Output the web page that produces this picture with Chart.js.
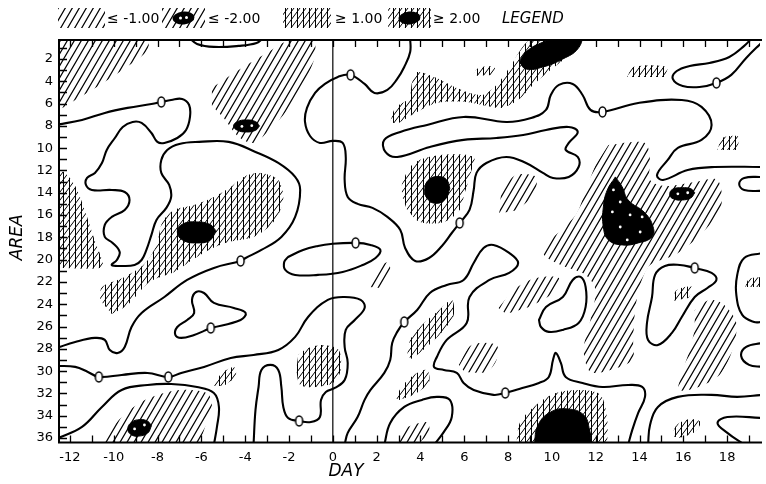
<!DOCTYPE html>
<html>
<head>
<meta charset="utf-8">
<title>Area / day anomaly isopleths</title>
<script src="https://cdn.jsdelivr.net/npm/chart.js@4.4.1/dist/chart.umd.min.js"></script>
<style>
html,body{margin:0;padding:0;background:#ffffff;overflow:hidden;}
canvas{display:block;}
</style>
</head>
<body>
<canvas id="chart" width="766" height="484"></canvas>
<script>
// ---------------- axes ----------------
const dayRange = [-12.5, 19.5];
const areaRange = [0.3, 36.4];
const dayTicks = [-12, -10, -8, -6, -4, -2, 0, 2, 4, 6, 8, 10, 12, 14, 16, 18];
const areaTicks = [2, 4, 6, 8, 10, 12, 14, 16, 18, 20, 22, 24, 26, 28, 30, 32, 34, 36];
const legendLabels = ['\u2264 -1.00', '\u2264 -2.00', '\u2265 1.00', '\u2265 2.00', 'LEGEND'];
const axisTitles = { x: 'DAY', y: 'AREA' };

// ---------------- zero isolines  [day, area] ----------------
const zeroLineA = [[-12.6,7.9],[-11.45,7.47],[-10.41,6.84],[-9.37,6.39],[-8.28,6.04],[-7.83,5.86],[-7.38,5.68],[-6.88,5.59],[-6.56,6.13],[-6.52,7.2],[-6.7,8.37],[-7.1,9.09],[-7.69,9.53],[-8.01,9.44],[-8.28,8.64],[-8.73,7.74],[-9.14,7.65],[-9.59,8.1],[-9.95,9.09],[-10.32,10.16],[-10.54,11.33],[-10.86,12.22],[-11.22,12.67],[-11.27,13.3],[-11.0,13.75],[-10.09,13.75],[-9.5,13.93],[-9.28,14.65],[-9.5,15.54],[-10.09,16.17],[-10.41,16.89],[-10.41,17.96],[-10.05,18.5],[-9.73,19.31],[-9.86,20.03],[-10.09,20.48],[-9.64,20.57],[-9.05,20.48],[-8.73,20.03],[-8.51,19.13],[-8.28,17.78],[-8.05,16.44],[-7.6,15.36],[-7.38,14.38],[-7.47,13.3],[-7.83,12.22],[-7.83,11.06],[-7.56,10.16],[-7.01,9.62],[-6.11,9.44],[-4.75,9.44],[-3.53,10.34],[-2.49,11.33],[-1.72,12.58],[-1.49,13.75],[-1.72,16.17],[-2.35,17.96],[-3.26,19.13],[-3.98,19.85],[-4.21,20.12],[-5.43,20.74],[-6.65,21.82],[-7.69,23.35],[-8.73,24.78],[-9.19,26.04],[-9.5,27.83],[-9.82,28.37],[-10.18,28.1],[-10.41,27.2],[-10.86,27.02],[-11.76,27.38],[-12.6,27.92]];
const zeroLineB = [[-12.6,29.53],[-11.76,29.62],[-11.18,30.07],[-10.68,30.52],[-9.64,30.34],[-8.46,30.16],[-7.51,30.52],[-6.92,30.16],[-5.88,29.62],[-4.66,28.82],[-3.62,28.55],[-2.49,28.1],[-1.72,26.93],[-1.13,25.14],[-0.23,23.61],[0.54,23.35],[1.27,23.61],[1.45,24.33],[1.0,25.41],[0.59,26.3],[0.54,27.83],[0.68,29.26],[0.54,30.79],[0.09,31.51],[-0.32,31.87],[-0.54,32.58],[-0.59,34.11],[-1.0,34.56],[-1.54,34.47],[-2.04,34.2],[-2.26,33.21],[-2.35,31.42],[-2.49,29.89],[-2.85,29.44],[-3.26,29.89],[-3.39,31.42],[-3.53,33.48],[-3.62,36.6]];
const zeroLineC = [[-12.6,36.05],[-11.45,35.0],[-10.54,33.21],[-9.64,31.69],[-8.46,31.24],[-7.38,31.15],[-6.2,31.42],[-5.43,31.96],[-5.2,33.21],[-5.29,35.0],[-5.43,36.6]];
const zeroLoopD = [[-5.57,26.13],[-4.21,25.41],[-3.98,24.78],[-4.52,24.33],[-5.43,23.88],[-5.88,22.99],[-6.24,22.9],[-6.43,23.61],[-6.33,24.78],[-6.65,25.41],[-7.1,26.04],[-7.19,26.75],[-6.92,27.02],[-6.33,26.75],[-5.88,26.39],[-5.57,26.13]];
const zeroLoopE = [[-2.04,19.76],[-1.36,19.13],[-0.68,18.77],[-0.09,18.59],[1.04,18.5],[1.72,18.68],[2.17,19.13],[1.95,19.85],[1.36,20.48],[0.45,21.1],[-0.68,21.37],[-1.72,21.37],[-2.17,20.92],[-2.22,20.21],[-2.04,19.76]];
const zeroLineF = [[3.53,0.1],[3.53,1.37],[3.26,2.72],[2.94,3.79],[2.49,4.78],[1.9,5.05],[1.45,4.24],[0.81,3.43],[0.23,3.61],[-0.36,4.24],[-0.81,5.05],[-1.18,6.39],[-1.27,7.65],[-1.04,8.91],[-0.59,9.53],[0.0,9.35],[0.45,9.53],[0.59,10.79],[0.54,12.85],[0.68,14.38],[1.13,15.0],[1.81,15.36],[2.49,16.17],[3.08,17.34],[3.3,18.95],[3.76,20.12],[4.39,19.85],[4.98,18.77],[5.43,17.61],[5.79,16.71],[6.24,15.54],[6.43,13.75],[6.56,12.22],[7.01,11.33],[7.92,10.79],[8.82,11.33],[9.59,12.22],[10.05,12.67],[10.77,12.58],[11.22,11.69],[11.18,10.79],[10.63,10.16],[10.77,9.53],[11.18,8.55],[10.77,8.1],[9.73,8.37],[8.69,8.82],[7.47,9.09],[5.97,9.26],[4.43,9.89],[2.94,10.79],[2.4,10.34],[2.35,9.26],[3.08,8.55],[4.3,7.92],[5.97,7.2],[7.92,7.65],[9.05,7.29],[9.73,6.57],[9.95,5.23],[10.32,4.33],[10.95,4.24],[11.4,5.23],[11.76,6.57],[12.31,6.75],[13.94,5.95],[15.93,5.68],[16.83,6.3],[17.29,7.92],[16.83,9.26],[15.75,9.98],[15.29,11.06],[14.8,12.4],[15.07,12.85],[16.2,11.96],[17.42,11.69],[19.6,11.69]];
const zeroLineG = [[19.14,0.1],[18.78,0.83],[18.1,1.82],[17.19,2.36],[16.29,2.63],[15.7,3.08],[15.52,3.79],[15.97,4.42],[16.74,4.51],[17.51,4.15],[18.19,3.43],[18.87,1.91],[19.6,0.48]];
const zeroLineH = [[0.54,36.6],[0.68,35.54],[1.13,34.11],[1.45,32.58],[1.72,31.69],[2.35,30.16],[2.62,29.0],[2.71,27.47],[2.94,26.48],[3.26,25.59],[3.85,24.51],[4.43,22.99],[5.2,22.27],[5.97,21.82],[6.43,20.3],[6.88,18.95],[7.33,18.68],[8.05,19.4],[8.46,20.3],[8.05,21.19],[7.15,21.82],[6.24,23.35],[6.11,25.68],[5.2,27.2],[4.75,28.73],[4.62,29.62],[5.07,29.89],[5.66,30.16],[5.97,31.06],[6.43,31.69],[7.33,32.13],[7.87,31.96],[8.51,31.6],[9.41,31.06],[9.86,30.52],[10.05,29.0],[10.18,28.37],[10.41,29.26],[10.63,30.52],[11.4,31.06],[12.31,31.42],[13.48,31.24],[14.12,31.42],[14.25,32.31],[13.94,33.75],[13.67,35.27],[13.48,36.6]];
const zeroLoopI = [[9.41,25.41],[9.73,24.24],[10.5,23.35],[10.95,21.82],[11.31,21.55],[11.54,22.45],[11.54,24.24],[11.22,25.68],[10.5,26.3],[9.86,26.48],[9.5,26.04],[9.41,25.41]];
const zeroLoopJ = [[16.52,20.74],[17.29,21.19],[17.51,21.82],[17.1,22.54],[16.52,23.35],[15.93,25.14],[15.48,26.57],[14.84,27.65],[14.39,27.2],[14.34,25.68],[14.57,23.35],[14.71,21.37],[15.16,20.57],[15.84,20.48],[16.52,20.74]];
const zeroLineK = [[2.35,36.6],[2.62,34.65],[3.26,33.21],[4.07,32.58],[4.75,32.31],[5.34,32.58],[5.43,34.11],[5.07,35.45],[4.62,36.6]];
const zeroLineL = [[-6.56,0.1],[-6.2,0.65],[-5.43,0.92],[-4.3,0.83],[-3.48,0.57],[-3.17,0.1]];
const zeroLineM = [[14.39,36.6],[14.48,34.83],[14.84,33.21],[15.75,32.31],[17.29,32.13],[18.46,32.31],[19.6,32.13]];
const zeroLineN = [[19.6,34.2],[18.01,34.11],[17.56,34.65],[18.01,35.54],[18.78,36.6]];
const zeroLineP = [[19.6,12.58],[18.78,12.67],[18.55,13.21],[18.78,13.75],[19.6,13.84]];
const zeroLineQ = [[19.6,19.4],[18.78,19.85],[18.46,21.37],[18.42,23.17],[18.69,24.96],[19.23,25.59],[19.6,25.59]];
const zeroLineR = [[19.6,27.47],[18.87,27.83],[18.64,28.64],[19.0,29.44],[19.6,29.62]];
const zeroLabels = [[-7.83,5.86],[0.81,3.43],[12.31,6.75],[17.51,4.15],[5.79,16.71],[1.04,18.5],[-4.21,20.12],[-5.57,26.13],[3.26,25.59],[16.52,20.74],[7.87,31.96],[-1.54,34.47],[-10.68,30.52],[-7.51,30.52]];
const dayZeroLine = [[0, 0.3], [0, 36.4]];

// ---------------- anomaly <= -1.00 (single hatch) ----------------
const neg1A = [[-12.6,0.1],[-8.51,0.1],[-8.46,1.19],[-9.28,2.54],[-10.63,4.33],[-11.76,5.68],[-12.35,6.39],[-12.6,6.5]];
const neg1B = [[-5.52,4.6],[-4.3,2.99],[-2.94,1.37],[-1.95,0.3],[-0.9,0.3],[-0.81,1.64],[-1.13,3.43],[-1.58,5.23],[-2.26,7.02],[-3.03,8.64],[-3.62,9.53],[-4.3,8.99],[-4.98,7.29],[-5.52,6.22]];
const neg1C = [[12.58,9.71],[14.25,9.53],[14.48,11.06],[14.48,12.85],[15.16,13.39],[16.52,13.03],[17.56,12.85],[17.74,15.09],[17.19,16.89],[16.52,18.23],[15.61,19.58],[14.48,20.48],[14.03,22.27],[13.8,24.51],[13.71,27.2],[13.67,29.0],[12.67,29.89],[11.76,30.07],[11.45,28.1],[11.76,25.41],[11.99,22.72],[11.54,21.37],[10.41,20.48],[9.64,19.58],[9.73,18.68],[11.09,15.99],[11.54,13.75],[11.99,11.51]];
const neg1D = [[7.69,13.75],[8.37,12.4],[9.28,12.58],[9.14,14.2],[8.37,15.54],[7.6,15.81]];
const neg1E = [[7.56,24.33],[8.37,22.54],[9.28,21.64],[10.32,21.64],[10.09,22.9],[9.05,24.15],[7.92,24.87]];
const neg1F = [[5.75,29.44],[6.33,27.65],[7.47,27.65],[7.47,29.0],[7.01,30.07],[6.02,30.07]];
const neg1G = [[16.52,24.51],[17.19,23.61],[17.87,24.06],[18.42,25.68],[18.24,28.1],[17.65,30.34],[16.6,31.5],[15.8,31.7],[15.84,30.79],[16.29,28.1],[16.52,26.3]];
const neg1H = [[2.85,36.6],[3.17,35.27],[4.3,34.56],[4.39,35.45],[3.85,36.6]];
const neg1I = [[1.67,22.45],[1.95,21.1],[2.49,20.21],[2.62,20.92],[2.17,22.54]];
const neg1J = [[-10.63,36.6],[-10.09,35.09],[-9.28,33.48],[-8.37,32.4],[-7.01,31.69],[-5.75,31.96],[-5.52,33.03],[-5.88,35.27],[-6.11,36.6]];

// ---------------- anomaly <= -2.00 (black with white dots) ----------------
const neg2A = [[-3.35,8.01],[-3.52,8.39],[-3.94,8.55],[-4.36,8.39],[-4.53,8.01],[-4.36,7.63],[-3.94,7.47],[-3.52,7.63],[-3.35,8.01]];
const neg2B = [[-8.28,34.9],[-8.45,34.5],[-8.8,34.35],[-9.2,34.6],[-9.36,35.2],[-9.2,35.7],[-8.85,35.82],[-8.45,35.55],[-8.28,34.9]];
const neg2C = [[12.9,12.58],[13.21,13.48],[13.48,14.65],[14.25,15.81],[14.62,17.07],[14.57,17.96],[13.94,18.5],[13.21,18.68],[12.58,18.23],[12.35,17.07],[12.35,15.27],[12.53,13.75],[12.9,12.58]];
const neg2D = [[16.52,14.0],[16.35,13.65],[15.95,13.55],[15.5,13.7],[15.38,14.2],[15.55,14.55],[15.95,14.65],[16.35,14.45],[16.52,14.0]];
const neg2Dots = [[-4.15,8.05],[-3.7,7.98],[-9.05,35.18],[-8.6,34.83],[12.81,13.75],[13.12,14.83],[12.76,15.72],[13.57,15.99],[13.12,17.07],[14.03,17.52],[13.44,18.23],[14.12,16.17],[15.75,14.1],[16.2,14.0]];

// ---------------- anomaly >= 1.00 (cross hatch) ----------------
const pos1A = [[-12.6,11.87],[-12.22,12.22],[-11.76,13.39],[-11.31,15.63],[-10.86,18.32],[-10.5,20.3],[-10.63,20.74],[-12.6,20.74]];
const pos1B = [[-10.63,23.61],[-10.54,22.45],[-9.5,21.55],[-8.6,20.4],[-8.05,18.68],[-7.78,16.62],[-7.24,15.54],[-6.33,15.09],[-5.43,14.38],[-4.66,13.48],[-4.07,12.58],[-3.3,12.22],[-2.49,12.85],[-2.26,14.65],[-2.71,16.62],[-3.62,17.96],[-4.75,18.41],[-5.66,19.13],[-6.56,20.21],[-7.24,21.1],[-8.37,22.0],[-9.37,24.06],[-10.09,24.87]];
const pos1C = [[2.62,7.65],[2.85,6.39],[3.48,5.5],[3.62,4.06],[3.85,3.17],[4.75,3.7],[5.66,4.6],[6.79,5.23],[7.47,4.33],[8.14,2.54],[8.73,0.74],[9.19,0.1],[11.4,0.1],[10.95,1.37],[10.05,2.81],[9.14,4.33],[8.46,5.68],[7.69,6.39],[7.01,6.22],[6.11,5.86],[4.75,5.95],[3.85,6.75],[2.94,7.83]];
const pos1D = [[6.38,3.52],[6.65,2.81],[7.38,2.72],[7.33,3.43]];
const pos1E = [[13.44,3.61],[13.71,2.72],[15.25,2.72],[15.16,3.61]];
const pos1F = [[17.56,10.16],[17.78,9.09],[18.55,9.0],[18.42,10.16]];
const pos1G = [[3.17,14.38],[3.17,13.12],[3.71,11.33],[4.89,10.61],[6.43,10.79],[6.3,12.2],[6.02,14.02],[5.79,15.54],[5.07,16.62],[3.98,16.62],[3.39,15.54]];
const pos1H = [[-1.58,28.55],[-1.13,27.92],[-0.45,27.65],[0.27,28.1],[0.36,29.89],[0.05,31.0],[-0.77,31.42],[-1.49,31.24],[-1.67,29.89]];
const pos1I = [[-5.43,31.33],[-5.11,30.25],[-4.52,29.62],[-4.43,30.43],[-4.98,31.33]];
const pos1J = [[3.39,28.64],[3.53,27.2],[4.07,25.86],[4.75,24.69],[5.43,23.61],[5.52,24.96],[5.07,26.3],[4.39,27.65],[3.62,28.91]];
const pos1K = [[2.85,32.4],[3.17,31.33],[3.76,30.25],[4.3,29.89],[4.39,30.97],[3.76,32.04],[3.03,32.58]];
const pos1L = [[8.37,36.6],[8.55,34.56],[9.28,33.03],[10.18,31.96],[11.31,31.69],[12.22,32.13],[12.53,34.38],[12.53,36.6]];
const pos1M = [[15.48,35.81],[15.7,34.83],[16.29,34.29],[16.79,34.56],[16.52,35.45],[15.84,35.99]];
const pos1N = [[15.48,23.7],[15.7,22.72],[16.43,22.45],[16.24,23.44]];
const pos1O = [[18.82,22.45],[19.0,21.73],[19.6,21.64],[19.6,22.45]];

// ---------------- anomaly >= 2.00 (solid black) ----------------
const pos2A = [[-5.34,17.4],[-5.6,16.85],[-6.2,16.62],[-6.85,16.8],[-7.1,17.5],[-6.85,18.25],[-6.2,18.5],[-5.6,18.25],[-5.34,17.4]];
const pos2B = [[8.51,2.27],[8.82,1.37],[9.5,0.57],[10.41,0.1],[11.31,0.1],[11.18,1.1],[10.5,2.0],[9.59,2.72],[8.82,2.9],[8.51,2.27]];
const pos2C = [[5.34,13.6],[5.2,12.85],[4.85,12.55],[4.4,12.8],[4.2,13.6],[4.3,14.5],[4.7,14.95],[5.15,14.55],[5.34,13.6]];
const pos2D = [[9.19,36.6],[9.37,34.83],[9.95,33.66],[10.72,33.39],[11.45,33.93],[11.72,35.27],[11.81,36.6]];

// ---------------- helpers ----------------
const canvas = document.getElementById('chart');
const ctx0 = canvas.getContext('2d');
const toXY = arr => arr.map(([x, y]) => ({ x, y }));

function hatchTile(w, h, lw, withVertical) {
  const c = document.createElement('canvas');
  c.width = w; c.height = h;
  const g = c.getContext('2d');
  g.strokeStyle = '#000';
  g.lineWidth = lw;
  g.beginPath();
  for (let k = -1; k <= 1; k++) {
    g.moveTo(k * w - w, 2 * h);
    g.lineTo(k * w + 2 * w, -h);
  }
  g.stroke();
  if (withVertical) {
    g.lineWidth = 1;
    g.beginPath(); g.moveTo(w / 2 + 0.5, 0); g.lineTo(w / 2 + 0.5, h); g.stroke();
  }
  return c;
}
const negPattern = ctx0.createPattern(hatchTile(7, 12, 1.2, false), 'repeat');
const posPattern = ctx0.createPattern(hatchTile(6, 8, 1.0, true), 'repeat');

function zeroMark() {
  const c = document.createElement('canvas');
  c.width = 11; c.height = 14;
  const g = c.getContext('2d');
  g.fillStyle = '#fff'; g.strokeStyle = '#000'; g.lineWidth = 1.5;
  g.beginPath(); g.ellipse(5.5, 7, 3.5, 5.1, 0, 0, Math.PI * 2); g.fill(); g.stroke();
  return c;
}

const region = (arr, paint, order) => ({
  data: toXY(arr), fill: 'shape', backgroundColor: paint,
  borderColor: 'rgba(0,0,0,0)', borderWidth: 0, pointRadius: 0, tension: 0.3, order
});
const core = (arr) => ({
  data: toXY(arr), fill: 'shape', backgroundColor: '#000',
  borderColor: '#000', borderWidth: 1, pointRadius: 0, tension: 0.45, order: 8
});
const isoline = (arr) => ({
  data: toXY(arr), fill: false, borderColor: '#000', borderWidth: 2.1,
  pointRadius: 0, tension: 0.4, borderCapStyle: 'round', borderJoinStyle: 'round', order: 4
});

const datasets = [];
[neg1A, neg1B, neg1C, neg1D, neg1E, neg1F, neg1G, neg1H, neg1I, neg1J].forEach(a => datasets.push(region(a, negPattern, 10)));
[pos1A, pos1B, pos1C, pos1D, pos1E, pos1F, pos1G, pos1H, pos1I, pos1J, pos1K, pos1L, pos1M, pos1N, pos1O].forEach(a => datasets.push(region(a, posPattern, 10)));
[neg2A, neg2B, neg2C, neg2D, pos2A, pos2B, pos2C, pos2D].forEach(a => datasets.push(core(a)));
datasets.push({ data: toXY(neg2Dots), showLine: false, pointRadius: 1.4, pointBackgroundColor: '#fff', pointBorderWidth: 0, pointBorderColor: '#fff', order: 7 });
datasets.push({ data: toXY(dayZeroLine), borderColor: '#000', borderWidth: 1.2, pointRadius: 0, tension: 0, fill: false, order: 6 });
[zeroLineA, zeroLineB, zeroLineC, zeroLoopD, zeroLoopE, zeroLineF, zeroLineG, zeroLineH, zeroLoopI, zeroLoopJ, zeroLineK, zeroLineL, zeroLineM, zeroLineN, zeroLineP, zeroLineQ, zeroLineR].forEach(a => datasets.push(isoline(a)));
datasets.push({ data: toXY(zeroLabels), showLine: false, pointStyle: zeroMark(), pointRadius: 5, order: 1 });

// ---------------- decorations: frame, inward ticks, titles, legend ----------------
const decor = {
  id: 'decor',
  afterDraw(chart) {
    const { ctx, chartArea: a, scales: { x, y } } = chart;
    ctx.save();
    ctx.strokeStyle = '#000';
    ctx.lineWidth = 1.3;
    ctx.beginPath();
    for (let d = Math.ceil(x.min); d <= Math.floor(x.max); d++) {
      const px = Math.round(x.getPixelForValue(d)) + 0.5;
      ctx.moveTo(px, a.top); ctx.lineTo(px, a.top + 7);
      ctx.moveTo(px, a.bottom); ctx.lineTo(px, a.bottom - 7);
    }
    for (let v = Math.ceil(y.min); v <= Math.floor(y.max); v++) {
      const py = Math.round(y.getPixelForValue(v)) + 0.5;
      ctx.moveTo(a.left, py); ctx.lineTo(a.left + 8, py);
    }
    ctx.stroke();
    ctx.lineWidth = 2;
    ctx.beginPath();
    ctx.moveTo(a.right + 2, a.top); ctx.lineTo(a.left, a.top);
    ctx.lineTo(a.left, a.bottom); ctx.lineTo(a.right + 2, a.bottom);
    ctx.stroke();

    // axis titles
    ctx.fillStyle = '#000';
    ctx.font = 'italic 17px "DejaVu Sans"';
    ctx.textAlign = 'center'; ctx.textBaseline = 'middle';
    ctx.fillText(axisTitles.x, x.getPixelForValue(0.6), 472);
    ctx.save();
    ctx.translate(18, (a.top + a.bottom) / 2 - 4);
    ctx.rotate(-Math.PI / 2);
    ctx.fillText(axisTitles.y, 0, 0);
    ctx.restore();

    // legend
    const sw = [[58, 47, negPattern, false], [162, 43, negPattern, true], [283, 48, posPattern, false], [388, 43, posPattern, true]];
    const tx = [107, 208, 335, 433];
    ctx.font = '14px "DejaVu Sans"';
    ctx.textAlign = 'left'; ctx.textBaseline = 'middle';
    sw.forEach(([sx, w, pat, blob], i) => {
      ctx.fillStyle = pat;
      ctx.fillRect(sx, 8, w, 20);
      if (blob) {
        ctx.fillStyle = '#000';
        ctx.beginPath(); ctx.ellipse(sx + w / 2, 18, 11, 6.5, -0.1, 0, Math.PI * 2); ctx.fill();
        if (i === 1) {
          ctx.fillStyle = '#fff';
          ctx.beginPath(); ctx.arc(sx + w / 2 - 3, 18, 1.5, 0, Math.PI * 2); ctx.arc(sx + w / 2 + 3, 17.5, 1.5, 0, Math.PI * 2); ctx.fill();
        }
      }
      ctx.fillStyle = '#000';
      ctx.fillText(legendLabels[i], tx[i], 19);
    });
    ctx.font = 'italic 15px "DejaVu Sans"';
    ctx.fillText(legendLabels[4], 502, 19);
    ctx.restore();
  }
};

new Chart(ctx0, {
  type: 'line',
  data: { datasets },
  options: {
    responsive: false,
    animation: false,
    devicePixelRatio: 1,
    events: [],
    layout: { padding: { top: 40, left: 0, right: 0, bottom: 0 } },
    plugins: { legend: { display: false }, tooltip: { enabled: false }, title: { display: false } },
    scales: {
      x: {
        type: 'linear', min: dayRange[0], max: dayRange[1],
        afterBuildTicks: s => { s.ticks = dayTicks.map(v => ({ value: v })); },
        afterFit: s => { s.height = 41.5; },
        grid: { display: false, drawTicks: false },
        border: { display: false },
        ticks: { color: '#000', font: { family: 'DejaVu Sans', size: 13 }, padding: 7, maxRotation: 0, autoSkip: false, callback: v => String(v) }
      },
      y: {
        type: 'linear', reverse: true, min: areaRange[0], max: areaRange[1],
        afterBuildTicks: s => { s.ticks = areaTicks.map(v => ({ value: v })); },
        afterFit: s => { s.width = 59; },
        grid: { display: false, drawTicks: false },
        border: { display: false },
        ticks: { color: '#000', font: { family: 'DejaVu Sans', size: 13 }, padding: 6, autoSkip: false, callback: v => String(v) }
      }
    }
  },
  plugins: [decor]
});
</script>
</body>
</html>
